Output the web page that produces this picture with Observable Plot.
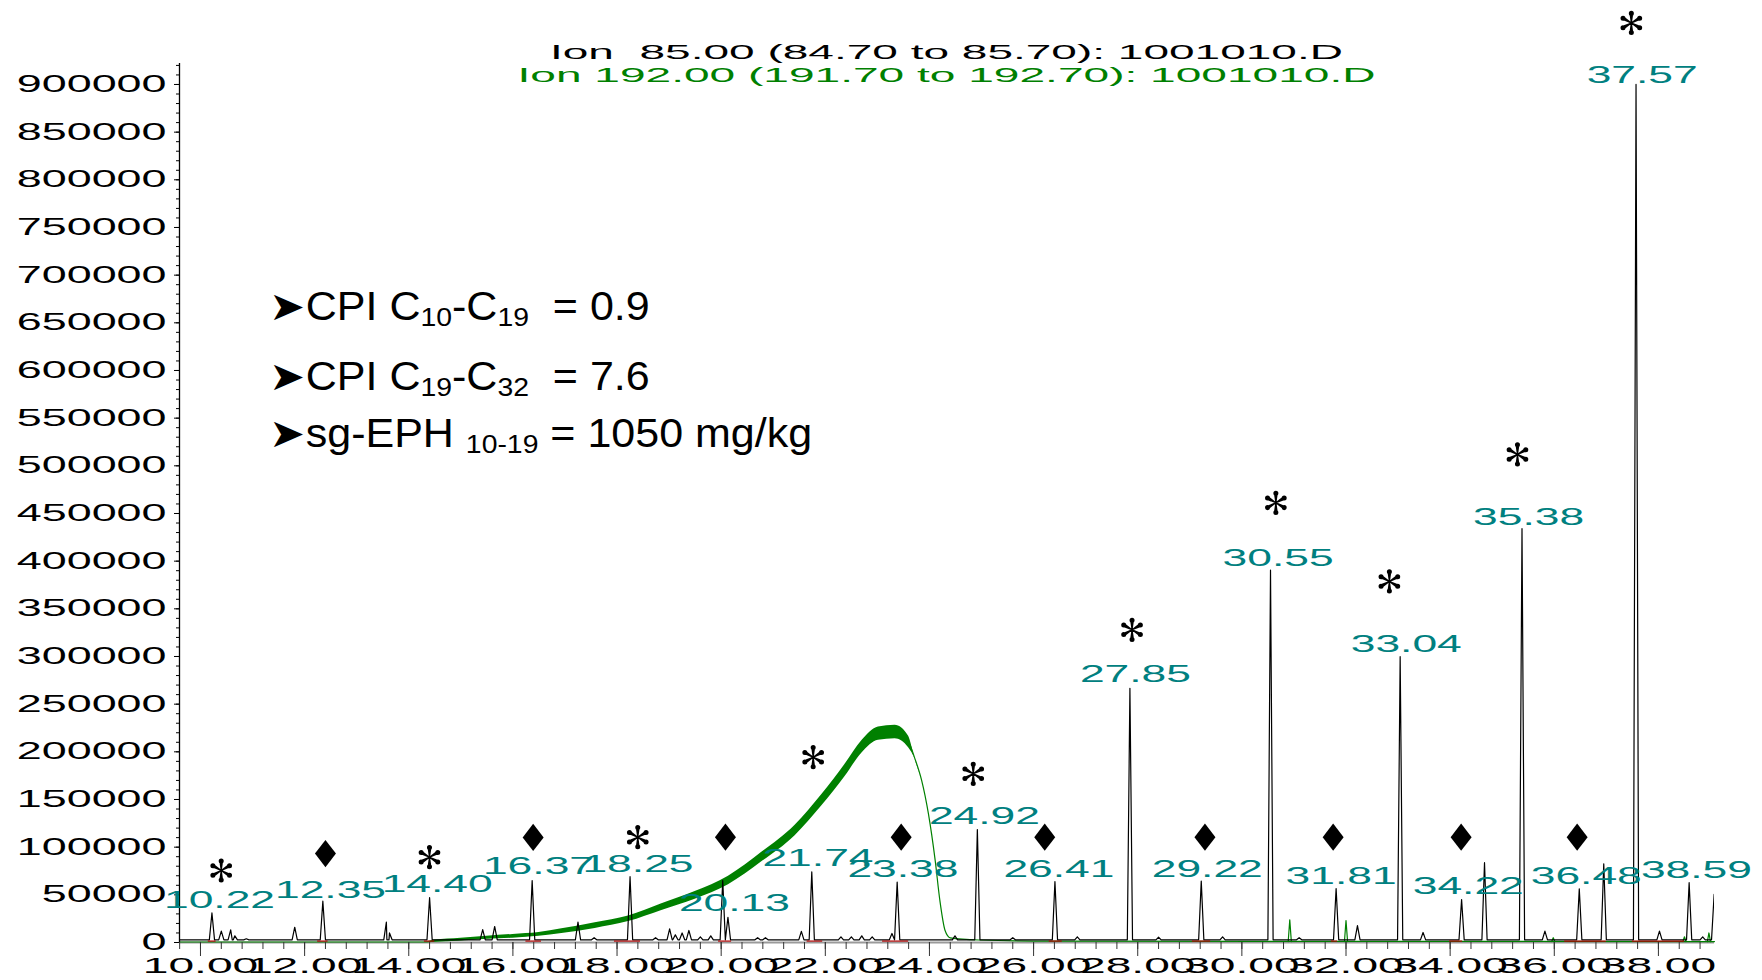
<!DOCTYPE html>
<html>
<head>
<meta charset="utf-8">
<script src="https://cdn.jsdelivr.net/npm/d3@7"></script>
<script src="https://cdn.jsdelivr.net/npm/@observablehq/plot@0.6"></script>
<style>
html, body { margin: 0; padding: 0; background: #fff; }
#chart { width: 1762px; height: 980px; }
</style>
</head>
<body>
<div id="chart"></div>
<script>
// ---------- axes ----------
const xDomain = [9.597, 39.077];          // retention time (min)
const yDomain = [0, 922000];              // abundance
const xMajorTicks = [10, 12, 14, 16, 18, 20, 22, 24, 26, 28, 30, 32, 34, 36, 38];
const yMajorTicks = [0, 50000, 100000, 150000, 200000, 250000, 300000, 350000, 400000, 450000,
  500000, 550000, 600000, 650000, 700000, 750000, 800000, 850000, 900000];

// ---------- Ion 85 trace (black): peak retention times and heights ----------
const peakTimes = [10.22, 10.40, 10.58, 10.66, 10.88, 11.81, 12.35, 13.57, 13.63, 14.40,
  15.42, 15.65, 16.37, 17.25, 17.56, 18.25, 18.74, 19.01, 19.12, 19.25,
  19.38, 19.60, 19.80, 20.03, 20.13, 20.70, 20.85, 21.54, 21.74, 22.30,
  22.50, 22.70, 22.90, 23.28, 23.38, 24.49, 24.92, 25.60, 26.41, 26.84,
  27.85, 28.40, 29.22, 29.63, 30.55, 31.10, 31.81, 32.22, 33.04, 33.48,
  34.22, 34.66, 35.38, 35.82, 36.48, 36.95, 37.57, 38.02, 38.59, 38.85, 39.07];
const peakHeights = [31000, 11900, 13300, 7000, 3900, 16000, 43300, 21300, 10000, 47000,
  13600, 16800, 65000, 21500, 5000, 69000, 5000, 14300, 8000, 10000,
  12600, 6000, 7000, 65000, 26500, 5000, 5000, 11600, 74000, 6000,
  6000, 7000, 6000, 9500, 63300, 7000, 118500, 5000, 64000, 6000,
  266700, 5500, 64400, 6000, 390500, 5000, 56500, 17800, 299800, 10500,
  45000, 83700, 434100, 12000, 56300, 82600, 900000, 12000, 62700, 6000, 50400];
const blackBaseline = 2800;

// ---------- Ion 192 trace (green): hump ----------
const greenTimes = [9.597, 14.30, 14.50, 15.00, 15.50, 16.00, 16.50, 16.94, 17.58, 18.22,
  18.86, 19.50, 20.14, 20.78, 21.42, 21.93, 22.38, 22.70, 23.02, 23.34,
  23.60, 23.72, 23.85, 23.98, 24.11, 24.20, 24.30, 24.40, 24.95, 26.00, 39.077];
const greenValues = [500, 500, 1500, 3000, 5000, 6500, 8500, 11900, 17800, 24900,
  37100, 49400, 65100, 89600, 117600, 149100, 180600, 205100, 219100, 220800,
  210300, 192900, 170100, 135100, 86100, 44100, 12600, 4900, 2600, 1500, 1000];
const greenNoise = [0, 0, 1000, 1500, 1500, 2000, 2000, 2500, 3000, 3000,
  3500, 4000, 4500, 5000, 5500, 6000, 6500, 6500, 7000, 7000,
  6000, 0, 0, 0, 0, 0, 0, 0, 0, 0, 0];
const greenSpikeTimes = [30.92, 32.00, 35.98, 38.50, 38.97];
const greenSpikeHeights = [23800, 23000, 5000, 6000, 10000];
const greenBaseline = 1000;

// ---------- integration baselines (red) ----------
const redStarts = [10.15, 12.25, 14.30, 16.25, 17.95, 19.95, 21.65, 23.10, 26.30, 29.05, 31.72, 33.99, 36.20, 37.50];
const redEnds   = [10.30, 12.45, 14.50, 16.55, 18.45, 20.20, 21.95, 23.60, 26.55, 29.40, 31.84, 34.24, 37.00, 38.50];
const redLevel = 1500;

// ---------- peak labels ----------
const peakLabels = ["10.22", "12.35", "14.40", "16.37", "18.25", "20.13", "21.74", "23.38", "24.92", "26.41",
  "27.85", "29.22", "30.55", "31.81", "33.04", "34.22", "35.38", "36.48", "37.57", "38.59"];
const labelTimes = [10.365, 12.497, 14.546, 16.491, 18.402, 20.255, 21.859, 23.491, 25.056, 26.487,
  27.956, 29.335, 30.695, 31.907, 33.157, 34.348, 35.508, 36.614, 37.688, 38.730];
const labelValues = [44050, 54540, 60520, 79720, 81810, 40910, 88110, 76050, 132160, 76890,
  281100, 76890, 402250, 69540, 312680, 58740, 445890, 69230, 909400, 75520];

// ---------- markers ----------
const asteriskTimes = [10.398, 14.398, 18.398, 21.767, 24.841, 27.891, 30.653, 32.833, 35.293, 37.48];
const asteriskValues = [75520, 89470, 110450, 194360, 176950, 328000, 461200, 378700, 511900, 964500];
const diamondTimes = [12.40, 16.389, 20.082, 23.457, 26.214, 29.291, 31.753, 34.211, 36.439];
const diamondValues = [93250, 110240, 110450, 110450, 110450, 110450, 110450, 110450, 110450];

// ---------- titles and annotation ----------
const titleLines = ["Ion  85.00 (84.70 to 85.70): 1001010.D", "Ion 192.00 (191.70 to 192.70): 1001010.D"];
const titleTime = 24.327;
const titleValues = [926900, 902400];
const annotLines = ["➤CPI C_{10}-C_{19}  = 0.9", "➤CPI C_{19}-C_{32}  = 7.6", "➤sg-EPH _{10-19} = 1050 mg/kg"];
const annotTime = 11.32;
const annotValues = [653200, 579700, 519500];

// ---------- build mark data ----------
const SPIKE = 0.05;
const blackPts = [{t: xDomain[0], v: blackBaseline}];
d3.zip(peakTimes, peakHeights).forEach(([t, h]) => {
  blackPts.push({t: t - SPIKE, v: blackBaseline}, {t, v: h}, {t: t + SPIKE, v: blackBaseline});
});
blackPts.sort((a, b) => a.t - b.t);

const greenBand = greenTimes.map((t, i) => ({t, lo: greenValues[i] - greenNoise[i], hi: greenValues[i] + greenNoise[i]}));
const greenHump = greenTimes.map((t, i) => ({t, v: greenValues[i]}));
const greenSpikes = [];
greenSpikeTimes.forEach((t, i) => {
  greenSpikes.push({t: t - 0.03, v: greenBaseline, s: i}, {t, v: greenSpikeHeights[i], s: i}, {t: t + 0.03, v: greenBaseline, s: i});
});

const redSegs = redStarts.map((s, i) => ({s, e: redEnds[i], v: redLevel}));
const labels = peakLabels.map((label, i) => ({label, t: labelTimes[i], v: labelValues[i]}));
const asterisks = asteriskTimes.map((t, i) => ({t, v: asteriskValues[i]}));
const diamonds = diamondTimes.map((t, i) => ({t, v: diamondValues[i]}));
const annots = annotLines.map((text, i) => ({text, t: annotTime, v: annotValues[i]}));

const minorX = d3.range(24, 98).map(i => i * 0.4);
const minorY = d3.range(0, 93).map(i => i * 10000);

// custom symbols
const diamondSymbol = {
  draw(ctx, size) {
    const r = Math.sqrt(size / Math.PI);
    ctx.moveTo(0, -1.3 * r); ctx.lineTo(1.0 * r, 0); ctx.lineTo(0, 1.3 * r); ctx.lineTo(-1.0 * r, 0); ctx.closePath();
  }
};
const asteriskSymbol = {
  draw(ctx, size) {
    const R = Math.sqrt(size / Math.PI);
    for (let k = 0; k < 6; k++) {
      const a = (90 + 60 * k) * Math.PI / 180;
      const dx = Math.cos(a), dy = -Math.sin(a);
      const px = -dy, py = dx;
      const w0 = 0.05 * R, w1 = 0.14 * R, L = 0.64 * R;
      ctx.moveTo(-px * w0, -py * w0);
      ctx.lineTo(dx * L - px * w1, dy * L - py * w1);
      ctx.lineTo(dx * L + px * w1, dy * L + py * w1);
      ctx.lineTo(px * w0, py * w0);
      ctx.closePath();
      const cx = dx * 0.8 * R, cy = dy * 0.8 * R, cr = 0.21 * R;
      ctx.moveTo(cx + cr, cy);
      ctx.arc(cx, cy, cr, 0, 2 * Math.PI);
    }
  }
};

const FONT = "'Liberation Sans', Arial, sans-serif";

const chart = Plot.plot({
  width: 1762,
  height: 980,
  marginLeft: 179,
  marginRight: 48,
  marginTop: 63,
  marginBottom: 38,
  x: {domain: xDomain},
  y: {domain: yDomain},
  style: {fontFamily: FONT, background: "white", color: "black"},
  marks: [
    Plot.ruleY([0], {stroke: "#9a9a9a", strokeWidth: 2}),
    Plot.areaY(greenBand, {x: "t", y1: "lo", y2: "hi", fill: "#008000", curve: "monotone-x"}),
    Plot.line(greenHump, {x: "t", y: "v", stroke: "#008000", strokeWidth: 1.2, curve: "monotone-x"}),
    Plot.line(greenSpikes, {x: "t", y: "v", z: "s", stroke: "#008000", strokeWidth: 1.2}),
    Plot.line(blackPts, {x: "t", y: "v", stroke: "black", strokeWidth: 1.2, clip: true}),
    Plot.ruleY(redSegs, {x1: "s", x2: "e", y: "v", stroke: "#b00000", strokeWidth: 1.2}),
    Plot.ruleX([xDomain[0]], {stroke: "black", strokeWidth: 1.3}),
    Plot.axisY({ticks: minorY, tickSize: 3, tickFormat: () => "", label: null}),
    Plot.axisY({ticks: yMajorTicks, tickSize: 5, tickPadding: 8, tickFormat: d3.format("d"), fontSize: 23, label: null}),
    Plot.axisX({ticks: minorX, tickSize: 7, tickFormat: () => "", label: null, stroke: "#333"}),
    Plot.axisX({ticks: xMajorTicks, tickSize: 14, tickPadding: 1, tickFormat: d3.format(".2f"), fontSize: 22.5, label: null, stroke: "#333"}),
    Plot.text([titleLines[0]], {x: () => titleTime, y: () => titleValues[0], text: d => d, fill: "black", fontSize: 21, lineAnchor: "bottom"}),
    Plot.text([titleLines[1]], {x: () => titleTime, y: () => titleValues[1], text: d => d, fill: "#008000", fontSize: 21, lineAnchor: "bottom"}),
    Plot.text(labels, {x: "t", y: "v", text: "label", fill: "#008080", fontSize: 23}),
    Plot.text(annots, {x: "t", y: "v", text: "text", fill: "black", fontSize: 40, textAnchor: "start", lineAnchor: "bottom"}),
    Plot.dot(asterisks, {x: "t", y: "v", symbol: asteriskSymbol, r: 12, fill: "black"}),
    Plot.dot(diamonds, {x: "t", y: "v", symbol: diamondSymbol, r: 10.5, fill: "black"})
  ]
});

document.getElementById("chart").append(chart);

// widen instrument-style text (the original chart is horizontally stretched)
function stretch(nodes, k) {
  nodes.forEach(el => {
    const w = el.getComputedTextLength();
    if (w > 0) {
      el.setAttribute("textLength", (w * k).toFixed(1));
      el.setAttribute("lengthAdjust", "spacingAndGlyphs");
    }
  });
}
stretch(chart.querySelectorAll('g[aria-label="y-axis tick label"] text'), 1.95);
stretch(chart.querySelectorAll('g[aria-label="x-axis tick label"] text'), 2.05);

const textGroups = chart.querySelectorAll('g[aria-label="text"]');
const titleTargets = [793, 858];
[0, 1].forEach(i => {
  const el = textGroups[i].querySelector("text");
  el.style.whiteSpace = "pre";
  el.setAttribute("textLength", titleTargets[i]);
  el.setAttribute("lengthAdjust", "spacingAndGlyphs");
});
stretch(textGroups[2].querySelectorAll("text"), 1.93);

// subscripts in the annotation block
const SVGNS = "http://www.w3.org/2000/svg";
textGroups[3].querySelectorAll("text").forEach((el, i) => {
  const str = annotLines[i];
  el.style.whiteSpace = "pre";
  while (el.firstChild) el.removeChild(el.firstChild);
  const parts = str.split(/_\{([^}]*)\}/);
  let shifted = false;
  parts.forEach((p, j) => {
    if (p === "") return;
    const ts = document.createElementNS(SVGNS, "tspan");
    ts.textContent = p;
    if (j % 2 === 1) {
      ts.setAttribute("font-size", "0.66em");
      if (!shifted) { ts.setAttribute("dy", "6"); shifted = true; }
    } else if (shifted) {
      ts.setAttribute("dy", "-6"); shifted = false;
    }
    el.appendChild(ts);
  });
});
// the annotation in the original is slightly wider than Liberation Sans
stretch(textGroups[3].querySelectorAll("text"), 1.075);
</script>
</body>
</html>
